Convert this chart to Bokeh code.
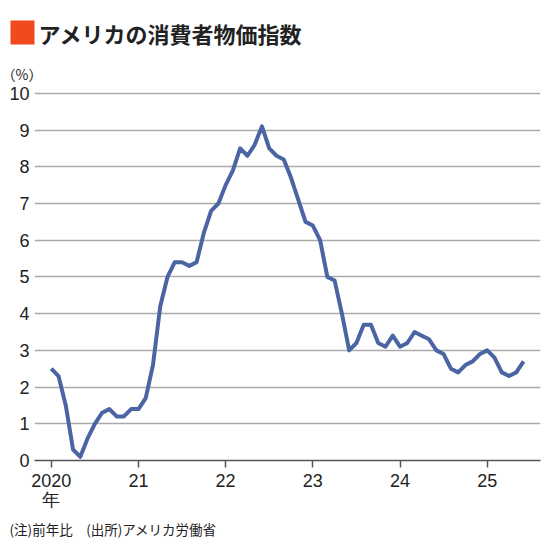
from bokeh.plotting import figure
from bokeh.layouts import column
from bokeh.models import Range1d, FixedTicker
from bokeh.core.properties import value
from bokeh.embed import file_html
from bokeh.resources import INLINE

# Data: US CPI, year-over-year % change, monthly Jan 2020 - Jun 2025
start_year = 2020
cpi_yoy = [
    2.5, 2.3, 1.5, 0.3, 0.1, 0.6, 1.0, 1.3, 1.4, 1.2, 1.2, 1.4,   # 2020
    1.4, 1.7, 2.6, 4.2, 5.0, 5.4, 5.4, 5.3, 5.4, 6.2, 6.8, 7.0,   # 2021
    7.5, 7.9, 8.5, 8.3, 8.6, 9.1, 8.5, 8.3, 8.2, 7.7, 7.1, 6.5,   # 2022
    6.4, 6.0, 5.0, 4.9, 4.0, 3.0, 3.2, 3.7, 3.7, 3.2, 3.1, 3.4,   # 2023
    3.1, 3.2, 3.5, 3.4, 3.3, 3.0, 2.9, 2.5, 2.4, 2.6, 2.7, 2.9,   # 2024
    3.0, 2.8, 2.4, 2.3, 2.4, 2.7,                                 # 2025
]
x_ticks = [2020, 2021, 2022, 2023, 2024, 2025]
x_tick_labels = ["2020\n年", "21", "22", "23", "24", "25"]
y_ticks = [0, 1, 2, 3, 4, 5, 6, 7, 8, 9, 10]

title_text = "アメリカの消費者物価指数"
unit_text = "（%）"
note_text = "(注)前年比　(出所)アメリカ労働省"

months = [start_year + i / 12 for i in range(len(cpi_yoy))]

NUM_FONT = "Liberation Sans"
JP_FONT = "Noto Sans CJK JP"
TEXT = "#222222"
W = 548


def plain_panel(h):
    f = figure(width=W, height=h, x_range=Range1d(0, W), y_range=Range1d(h, 0),
               x_axis_type=None, y_axis_type=None, output_backend="svg",
               toolbar_location=None, min_border=0, frame_align=False)
    f.outline_line_color = None
    f.xgrid.grid_line_color = None
    f.ygrid.grid_line_color = None
    return f


# Header
HEAD_H = 82
head = plain_panel(HEAD_H)
head.rect(x=[22], y=[32], width=24, height=24, fill_color="#f04a1e", line_color=None)
head.text(x=[38], y=[32], text=[title_text], text_font=value(JP_FONT),
          text_font_style="bold", text_font_size="22px", text_color=TEXT,
          text_baseline="middle")
head.text(x=[1], y=[73], text=[unit_text], text_font=value(JP_FONT),
          text_font_size="14px", text_color=TEXT, text_baseline="middle")

# Main chart
MAIN_H = 436
TOP_B = 9
FRAME_H = 369
p = figure(
    width=W, height=MAIN_H,
    x_range=Range1d(2019.808, 2025.611),
    y_range=Range1d(0, 10.05),
    output_backend="svg", toolbar_location=None,
    min_border_left=34, min_border_right=W - 34 - 506,
    min_border_top=TOP_B, min_border_bottom=MAIN_H - TOP_B - FRAME_H,
    frame_align=False,
)
p.outline_line_color = None

p.line(months, cpi_yoy, line_color="#4a64a4", line_width=4, line_join="round")

xa = p.xaxis[0]
xa.ticker = FixedTicker(ticks=x_ticks)
xa.major_label_overrides = {t: l for t, l in zip(x_ticks, x_tick_labels)}
xa.axis_line_color = "#555555"
xa.axis_line_width = 1.5
xa.major_tick_line_color = "#555555"
xa.major_tick_line_width = 1.5
xa.major_tick_out = 7
xa.major_tick_in = 0
xa.minor_tick_line_color = None
xa.major_label_standoff = 3
xa.major_label_text_font = NUM_FONT
xa.major_label_text_font_size = "18px"
xa.major_label_text_line_height = 0.95
xa.major_label_text_color = TEXT

ya = p.yaxis[0]
ya.ticker = FixedTicker(ticks=y_ticks)
ya.axis_line_color = None
ya.major_tick_line_color = None
ya.minor_tick_line_color = None
ya.major_tick_out = 0
ya.major_tick_in = 0
ya.major_label_standoff = 5
ya.major_label_text_font = NUM_FONT
ya.major_label_text_font_size = "18px"
ya.major_label_text_line_height = 1.0
ya.major_label_text_color = TEXT

p.xgrid.grid_line_color = None
p.ygrid.ticker = FixedTicker(ticks=y_ticks[1:])
p.ygrid.grid_line_color = "#aaaaaa"
p.ygrid.grid_line_width = 1.5

# Footer
FOOT_H = 30
foot = plain_panel(FOOT_H)
foot.text(x=[9], y=[10], text=[note_text], text_font=value(JP_FONT),
          text_font_size="13.5px", text_color=TEXT, text_baseline="middle")

layout = column(head, p, foot, spacing=0)
open("out.html", "w").write(file_html(layout, INLINE))
